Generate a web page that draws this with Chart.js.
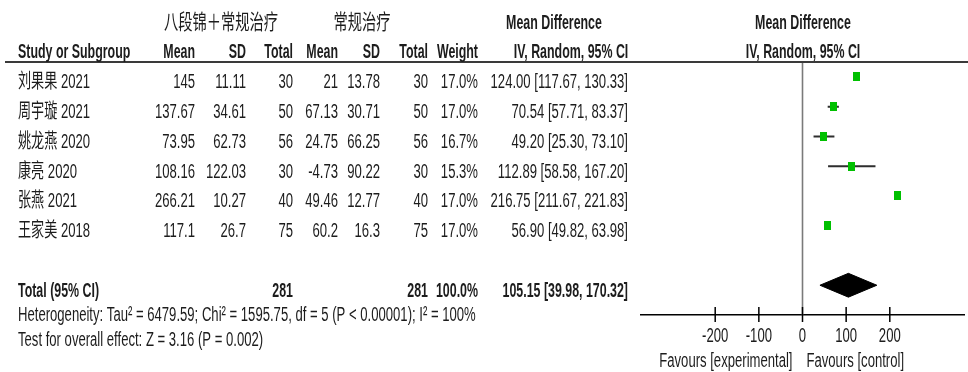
<!DOCTYPE html>
<html>
<head>
<meta charset="utf-8">
<script src="https://cdn.jsdelivr.net/npm/chart.js@4/dist/chart.umd.min.js"></script>
<style>
  html, body { margin: 0; padding: 0; background: #ffffff; }
  #wrap { width: 968px; height: 372px; }
</style>
</head>
<body>
<div id="wrap"><canvas id="forest" width="968" height="372"></canvas></div>
<script>
// Studies and their arm summaries
const studies   = ['刘果果 2021', '周宇璇 2021', '姚龙燕 2020', '康亮 2020', '张燕 2021', '王家美 2018'];
const expMean   = [145, 137.67, 73.95, 108.16, 266.21, 117.1];
const expSD     = [11.11, 34.61, 62.73, 122.03, 10.27, 26.7];
const expN      = [30, 50, 56, 30, 40, 75];
const ctrlMean  = [21, 67.13, 24.75, -4.73, 49.46, 60.2];
const ctrlSD    = [13.78, 30.71, 66.25, 90.22, 12.77, 16.3];
const ctrlN     = [30, 50, 56, 30, 40, 75];
const weights   = [17.0, 17.0, 16.7, 15.3, 17.0, 17.0];

// Mean difference with 95% CI per study
const mdEst  = [124.00, 70.54, 49.20, 112.89, 216.75, 56.90];
const mdLow  = [117.67, 57.71, 25.30, 58.58, 211.67, 49.82];
const mdHigh = [130.33, 83.37, 73.10, 167.20, 221.83, 63.98];

// Pooled (random effects) result
const pooledEst = [105.15];
const pooledLow = [39.98];
const pooledHigh = [170.32];
const pooledN = [281, 281];
const pooledWeight = [100.0];

const axisTicks = [-200, -100, 0, 100, 200];
const heterogeneityText = 'Heterogeneity: Tau² = 6479.59; Chi² = 1595.75, df = 5 (P < 0.00001); I² = 100%';
const overallText = 'Test for overall effect: Z = 3.16 (P = 0.002)';

const TOTAL_ROW = 7;
const SX_REG = 0.655;          // horizontal condensing of regular text
const SX_BOLD = 0.62;          // horizontal condensing of bold text
const FS = 20;                 // base font size
const INK = '#1c1c1c';
const FONT = '"Liberation Sans", Arial, "Noto Sans CJK SC", sans-serif';

function txt(ctx, s, x, y, align, bold, size, sx) {
  ctx.save();
  ctx.font = (bold ? 'bold ' : '') + size + 'px ' + FONT;
  ctx.fillStyle = INK;
  ctx.textAlign = align;
  ctx.textBaseline = 'middle';
  ctx.translate(x, y);
  ctx.scale(sx || (bold ? SX_BOLD : SX_REG), 1);
  ctx.fillText(s, 0, 0);
  ctx.restore();
}

function ciLabel(e, lo, hi) {
  return e.toFixed(2) + ' [' + lo.toFixed(2) + ', ' + hi.toFixed(2) + ']';
}

// Weight-scaled green square used as each study's point marker
function weightMarker(w) {
  const s = Math.sqrt(w / 17);
  const c = document.createElement('canvas');
  c.width = Math.max(4, Math.round(7 * s));
  c.height = Math.max(5, Math.round(9 * s));
  const g = c.getContext('2d');
  g.fillStyle = '#00c000';
  g.fillRect(0, 0, c.width, c.height);
  return c;
}

// CI whiskers: one segment per study, broken by gap points
const whiskerData = [];
studies.forEach((_, i) => {
  whiskerData.push({ x: mdLow[i], y: i });
  whiskerData.push({ x: mdHigh[i], y: i });
  whiskerData.push({ x: mdEst[i], y: null });
});

const diamondData = [
  { x: pooledLow[0], y: TOTAL_ROW },
  { x: pooledEst[0], y: TOTAL_ROW - 0.4 },
  { x: pooledHigh[0], y: TOTAL_ROW },
  { x: pooledEst[0], y: TOTAL_ROW + 0.4 },
  { x: pooledLow[0], y: TOTAL_ROW }
];

const tablePlugin = {
  id: 'forestTable',
  beforeDatasetsDraw(chart) {
    const ctx = chart.ctx;
    const xs = chart.scales.x;
    const area = chart.chartArea;
    // line of no effect
    const x0 = xs.getPixelForValue(0);
    ctx.save();
    ctx.strokeStyle = '#7a7a7a';
    ctx.lineWidth = 1.6;
    ctx.beginPath();
    ctx.moveTo(x0, area.top);
    ctx.lineTo(x0, area.bottom);
    ctx.stroke();
    ctx.restore();
  },
  afterDraw(chart) {
    const ctx = chart.ctx;
    const xs = chart.scales.x;
    const ys = chart.scales.y;
    const area = chart.chartArea;

    // header separator
    ctx.save();
    ctx.strokeStyle = '#3a3a3a';
    ctx.lineWidth = 2;
    ctx.beginPath();
    ctx.moveTo(5, area.top);
    ctx.lineTo(968, area.top);
    ctx.stroke();
    ctx.restore();

    // headers
    txt(ctx, '八段锦＋常规治疗', 221, 23, 'center', false, 21, 0.68);
    txt(ctx, '常规治疗', 362, 23, 'center', false, 21, 0.68);
    txt(ctx, 'Mean Difference', 554, 23, 'center', true, FS);
    txt(ctx, 'Mean Difference', 803, 23, 'center', true, FS);
    const h2 = 52;
    txt(ctx, 'Study or Subgroup', 18, h2, 'left', true, FS);
    txt(ctx, 'Mean', 195, h2, 'right', true, FS);
    txt(ctx, 'SD', 246, h2, 'right', true, FS);
    txt(ctx, 'Total', 293, h2, 'right', true, FS);
    txt(ctx, 'Mean', 338, h2, 'right', true, FS);
    txt(ctx, 'SD', 380, h2, 'right', true, FS);
    txt(ctx, 'Total', 428, h2, 'right', true, FS);
    txt(ctx, 'Weight', 478, h2, 'right', true, FS);
    txt(ctx, 'IV, Random, 95% CI', 571, h2, 'center', true, FS);
    txt(ctx, 'IV, Random, 95% CI', 803, h2, 'center', true, FS);

    // study rows
    studies.forEach((name, i) => {
      const y = ys.getPixelForValue(i) + 6;
      txt(ctx, name, 18, y, 'left', false, FS);
      txt(ctx, String(expMean[i]), 195, y, 'right', false, FS);
      txt(ctx, String(expSD[i]), 246, y, 'right', false, FS);
      txt(ctx, String(expN[i]), 293, y, 'right', false, FS);
      txt(ctx, String(ctrlMean[i]), 338, y, 'right', false, FS);
      txt(ctx, String(ctrlSD[i]), 380, y, 'right', false, FS);
      txt(ctx, String(ctrlN[i]), 428, y, 'right', false, FS);
      txt(ctx, weights[i].toFixed(1) + '%', 478, y, 'right', false, FS);
      txt(ctx, ciLabel(mdEst[i], mdLow[i], mdHigh[i]), 628, y, 'right', false, FS);
    });

    // pooled row
    const yt = ys.getPixelForValue(TOTAL_ROW) + 6;
    txt(ctx, 'Total (95% CI)', 18, yt, 'left', true, FS);
    txt(ctx, String(pooledN[0]), 293, yt, 'right', true, FS);
    txt(ctx, String(pooledN[1]), 428, yt, 'right', true, FS);
    txt(ctx, pooledWeight[0].toFixed(1) + '%', 478, yt, 'right', true, FS);
    txt(ctx, ciLabel(pooledEst[0], pooledLow[0], pooledHigh[0]), 628, yt, 'right', true, FS);

    txt(ctx, heterogeneityText, 18, 315, 'left', false, FS);
    txt(ctx, overallText, 18, 340, 'left', false, FS);

    // axis tick marks and labels
    ctx.save();
    ctx.strokeStyle = '#000';
    ctx.lineWidth = 1.5;
    xs.ticks.forEach(t => {
      const px = xs.getPixelForValue(t.value);
      ctx.beginPath();
      ctx.moveTo(px, area.bottom - 8);
      ctx.lineTo(px, area.bottom + 7);
      ctx.stroke();
      txt(ctx, String(t.value), px, 336, 'center', false, FS);
    });
    ctx.restore();

    const x0 = xs.getPixelForValue(0);
    txt(ctx, 'Favours [experimental]', x0 - 10, 361, 'right', false, FS);
    txt(ctx, 'Favours [control]', x0 + 4, 361, 'left', false, FS);
  }
};

new Chart(document.getElementById('forest'), {
  type: 'scatter',
  data: {
    datasets: [
      {
        type: 'line',
        data: whiskerData,
        borderColor: '#2e2e2e',
        borderWidth: 2,
        pointRadius: 0,
        spanGaps: false,
        fill: false,
        order: 2
      },
      {
        type: 'scatter',
        data: studies.map((_, i) => ({ x: mdEst[i], y: i })),
        pointStyle: weights.map(weightMarker),
        backgroundColor: '#00c000',
        borderWidth: 0,
        order: 1
      },
      {
        type: 'line',
        data: diamondData,
        borderColor: '#000',
        backgroundColor: '#000',
        borderWidth: 1,
        pointRadius: 0,
        tension: 0,
        fill: 'shape',
        order: 0
      }
    ]
  },
  options: {
    responsive: false,
    devicePixelRatio: 1,
    animation: false,
    events: [],
    layout: { padding: { left: 641, right: 1, top: 62, bottom: 0 } },
    plugins: { legend: { display: false }, tooltip: { enabled: false } },
    scales: {
      x: {
        type: 'linear',
        min: -370,
        max: 370,
        grid: { display: false },
        border: { display: true, color: '#000', width: 1.5 },
        ticks: { display: false },
        afterBuildTicks: s => { s.ticks = axisTicks.map(v => ({ value: v })); },
        afterFit: s => { s.height = 57; }
      },
      y: {
        type: 'linear',
        min: -0.5,
        max: 8,
        reverse: true,
        display: false
      }
    }
  },
  plugins: [tablePlugin]
});
</script>
</body>
</html>
